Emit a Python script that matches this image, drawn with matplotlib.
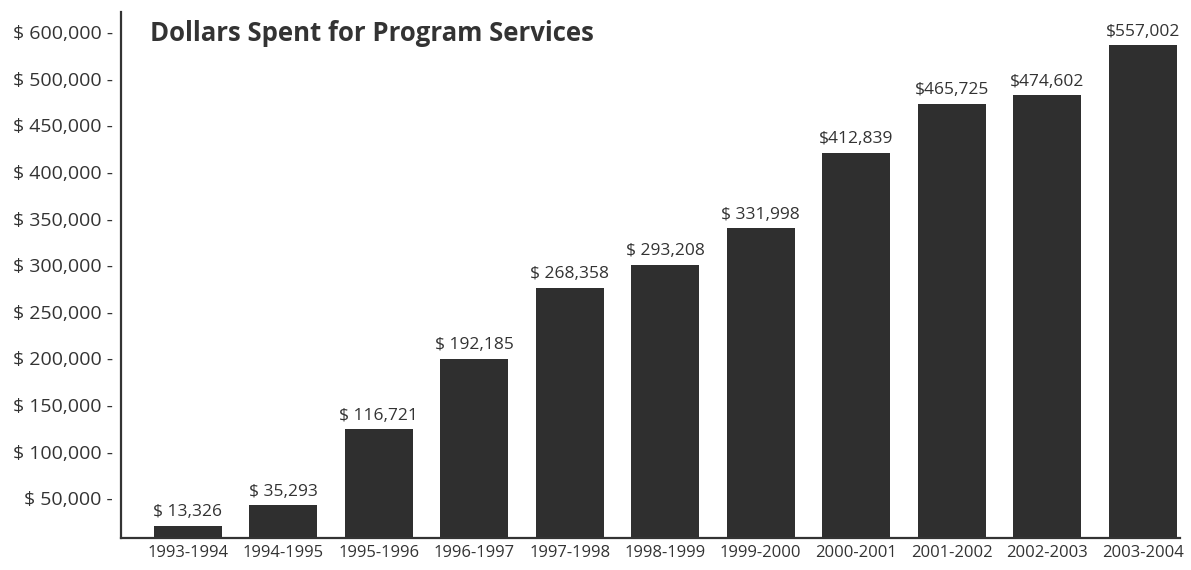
"""Dollars Spent for Program Services, bar chart."""

import numpy as np
import matplotlib
matplotlib.use("Agg")
import matplotlib.pyplot as plt
import matplotlib.transforms as mtransforms

years = ["1993-1994", "1994-1995", "1995-1996", "1996-1997", "1997-1998",
         "1998-1999", "1999-2000", "2000-2001", "2001-2002", "2002-2003",
         "2003-2004"]
spent = [13326, 35293, 116721, 192185, 268358, 293208, 331998,
         412839, 465725, 474602, 557002]
y_ticks = [50000, 100000, 150000, 200000, 250000, 300000, 350000,
           400000, 450000, 500000, 600000]

BAR = "#2f2f2f"
INK = "#333333"
plt.rcParams["font.family"] = ["Open Sans", "DejaVu Sans"]

# the original squeezes 500k-600k into a single tick step
BREAK = 500000.0


def fwd(y):
    y = np.asarray(y, dtype=float)
    return np.where(y <= BREAK, y, BREAK + (y - BREAK) / 2)


def inv(y):
    y = np.asarray(y, dtype=float)
    return np.where(y <= BREAK, y, BREAK + (y - BREAK) * 2)


fig = plt.figure(figsize=(11.91, 5.70), dpi=100)
ax = fig.add_axes([121 / 1191, 32 / 570, 1059 / 1191, 526 / 570])
ax.set_yscale("function", functions=(fwd, inv))

x = np.arange(len(years))
bars = ax.bar(x, spent, width=0.715, color=BAR, zorder=2)
labels = [f"$ {v:,}" if v < 400000 else f"${v:,}" for v in spent]
ax.bar_label(bars, labels=labels, padding=4, fontsize=12.5, color=INK)

ax.set_xlim(-0.698, 10.39)
ax.set_ylim(0, 628000)
ax.set_xticks(x, years)
ax.set_yticks(y_ticks, [f"$ {v:,} -" for v in y_ticks])
ax.tick_params(axis="x", length=0, pad=5, labelsize=12, labelcolor=INK)
ax.tick_params(axis="y", length=0, pad=6, labelsize=14, labelcolor=INK)

# the printed value labels sit a little below their gridline positions
shift = mtransforms.ScaledTranslation(0, -0.07, fig.dpi_scale_trans)
for lab in ax.get_yticklabels():
    lab.set_transform(lab.get_transform() + shift)

for side in ("top", "right"):
    ax.spines[side].set_visible(False)
for side in ("left", "bottom"):
    ax.spines[side].set_color(INK)
    ax.spines[side].set_linewidth(1.6)

ax.text(0.027, 0.96, "Dollars Spent for Program Services", transform=ax.transAxes,
        fontsize=18.5, fontweight="bold", color=INK, va="center", ha="left")

fig.savefig("out.png", dpi=100, facecolor="white")
plt.close(fig)
